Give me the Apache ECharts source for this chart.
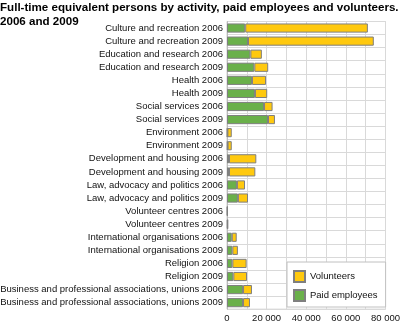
<!DOCTYPE html>
<html><head><meta charset="utf-8">
<script src="https://cdn.jsdelivr.net/npm/echarts@6/dist/echarts.min.js"></script>
<style>html,body{margin:0;padding:0;background:#fff}#c{width:401px;height:325px}</style>
</head><body><div id="c"></div>
<script>
const categories = [
  'Culture and recreation 2006','Culture and recreation 2009',
  'Education and research 2006','Education and research 2009',
  'Health 2006','Health 2009',
  'Social services 2006','Social services 2009',
  'Environment 2006','Environment 2009',
  'Development and housing 2006','Development and housing 2009',
  'Law, advocacy and politics 2006','Law, advocacy and politics 2009',
  'Volunteer centres 2006','Volunteer centres 2009',
  'International organisations 2006','International organisations 2009',
  'Religion 2006','Religion 2009',
  'Business and professional associations, unions 2006','Business and professional associations, unions 2009'
];
const paidEmployees = [9200,10600,11800,13800,12600,14100,18700,20700,200,300,1000,1000,5000,5500,200,300,2400,2700,2700,3200,8100,8100];
const volunteers    = [61900,63500,5800,7000,7100,6200,4300,3500,2200,2100,13800,13300,4100,5100,100,100,2500,2800,7200,6900,4500,3500];
const xTicks = [0,20000,40000,60000,80000];

const chart = echarts.init(document.getElementById('c'), null, {renderer:'canvas'});
const fmt = v => String(v).replace(/\B(?=(\d{3})+(?!\d))/g,' ');
chart.setOption({
  animation:false,
  textStyle:{fontFamily:'Liberation Sans, Arial, sans-serif'},
  title:{text:'Full-time equivalent persons by activity, paid employees and volunteers.\n2006 and 2009',
    left:0, top:1, padding:0,
    textStyle:{fontSize:11.6, fontWeight:'bold', color:'#000', lineHeight:14, fontFamily:'Liberation Sans, Arial, sans-serif'}},
  legend:{
    data:['Volunteers','Paid employees'], orient:'vertical', left:287, top:262,
    width:97, padding:[8,8,5,6], itemGap:6, itemWidth:11, itemHeight:11, icon:'rect',
    backgroundColor:'#fff', borderColor:'#c0c0c0', borderWidth:1,
    textStyle:{fontSize:9.5, color:'#111'}
  },
  grid:{left:227, right:15.5, top:21.5, bottom:15.8, containLabel:false, outerBoundsMode:'none', show:true, borderColor:'#cfcfcf', borderWidth:1},
  xAxis:{type:'value', min:xTicks[0], max:xTicks[xTicks.length-1], interval:10000,
    axisLine:{show:false}, axisTick:{show:false},
    splitLine:{show:true, lineStyle:{color:'#d9d9d9', width:1}},
    axisLabel:{fontSize:9.5, color:'#111', margin:4, showMaxLabel:true, showMinLabel:true, hideOverlap:false,
      formatter:v => xTicks.indexOf(v) >= 0 ? fmt(v) : ''}},
  yAxis:{type:'category', data:categories, inverse:true,
    axisLine:{show:true, lineStyle:{color:'#bbb'}}, axisTick:{show:false},
    splitLine:{show:true, interval:0, lineStyle:{color:'#d9d9d9', width:1}},
    axisLabel:{fontSize:9.5, color:'#111', margin:4, interval:0}},
  series:[
    {name:'Paid employees', type:'bar', stack:'t', data:paidEmployees, barCategoryGap:'30%',
      itemStyle:{color:'#6ab04a', borderColor:'#7f7f7f', borderWidth:1}},
    {name:'Volunteers', type:'bar', stack:'t', data:volunteers, barCategoryGap:'30%',
      itemStyle:{color:'#ffc90e', borderColor:'#7f7f7f', borderWidth:1}}
  ]
});
</script></body></html>
